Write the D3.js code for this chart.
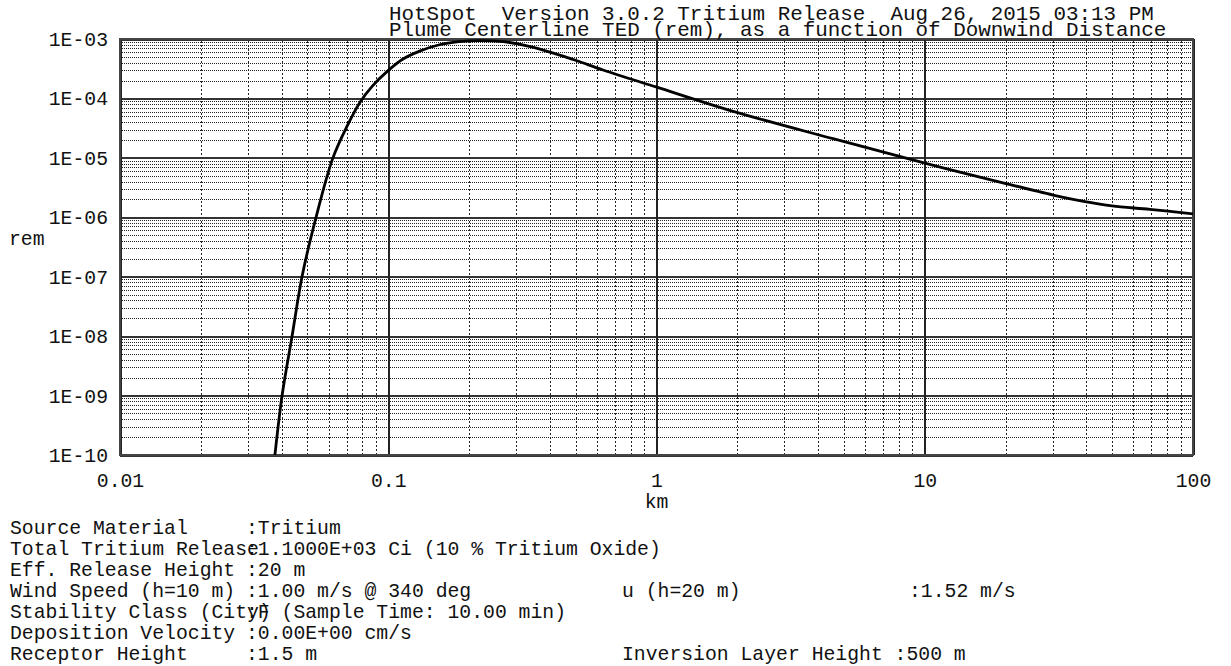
<!DOCTYPE html>
<html>
<head>
<meta charset="utf-8">
<script src="https://cdn.jsdelivr.net/npm/d3@7/dist/d3.min.js"></script>
<style>
  html, body { margin: 0; padding: 0; background: #fff; }
  svg { display: block; }
  text { font-family: "Liberation Mono", "DejaVu Sans Mono", monospace; fill: #111; white-space: pre; }
</style>
</head>
<body>
<script>
// ---- Data ----
const distanceKm = [0.0372, 0.0378, 0.0402, 0.0438, 0.0477, 0.0538, 0.0622, 0.0703, 0.0784, 0.0869,
  0.1003, 0.1131, 0.131, 0.1551, 0.1836, 0.2174, 0.2690, 0.3319, 0.4096, 0.5052, 0.632, 0.996, 1.93,
  4.55, 9.85, 19.9, 30.1, 39.6, 49.9, 69.1, 100];
const tedRem = [5e-11, 1.0e-10, 1.0e-9, 1.0e-8, 1.0e-7, 1.0e-6, 1.0e-5, 3.45e-5, 8.56e-5, 1.58e-4,
  2.99e-4, 4.57e-4, 6.26e-4, 8.0e-4, 9.0e-4, 9.4e-4, 9.0e-4, 7.6e-4, 5.85e-4, 4.3e-4, 3.01e-4, 1.56e-4, 6.06e-5,
  2.1e-5, 8.3e-6, 3.73e-6, 2.37e-6, 1.83e-6, 1.55e-6, 1.36e-6, 1.14e-6];

const xTickValues = [0.01, 0.1, 1, 10, 100];
const xTickLabels = ["0.01", "0.1", "1", "10", "100"];
const yTickValues = [1e-3, 1e-4, 1e-5, 1e-6, 1e-7, 1e-8, 1e-9, 1e-10];
const yTickLabels = ["1E-03", "1E-04", "1E-05", "1E-06", "1E-07", "1E-08", "1E-09", "1E-10"];

const titleLines = [
  "HotSpot  Version 3.0.2 Tritium Release  Aug 26, 2015 03:13 PM",
  "Plume Centerline TED (rem), as a function of Downwind Distance"
];
const xAxisTitle = "km";
const yAxisTitle = "rem";

const infoLabels = ["Source Material", "Total Tritium Release", "Eff. Release Height", "Wind Speed (h=10 m)",
  "Stability Class (City)", "Deposition Velocity", "Receptor Height"];
const infoValues = [":Tritium", ":1.1000E+03 Ci (10 % Tritium Oxide)", ":20 m", ":1.00 m/s @ 340 deg",
  ":F (Sample Time: 10.00 min)", ":0.00E+00 cm/s", ":1.5 m"];
const infoRightLabels = ["", "", "", "u (h=20 m)", "", "", "Inversion Layer Height :500 m"];
const infoRightValues = ["", "", "", ":1.52 m/s", "", "", ""];

// ---- Layout ----
const W = 1231, H = 666;
const L = 120, R = 1193, T = 39, B = 455;

const svg = d3.select("body").append("svg").attr("width", W).attr("height", H);

const x = d3.scaleLog().domain([0.01, 100]).range([L, R]);
const y = d3.scaleLog().domain([1e-10, 1e-3]).range([B, T]);

// minor grid values
const xMinor = [], yMinor = [];
for (let e = -2; e < 2; e++) for (let m = 2; m <= 9; m++) xMinor.push(m * Math.pow(10, e));
for (let e = -10; e < -3; e++) for (let m = 2; m <= 9; m++) yMinor.push(m * Math.pow(10, e));

const grid = svg.append("g");
grid.append("g").attr("transform", `translate(${L},0)`)
  .call(d3.axisLeft(y).tickValues(yMinor).tickSize(-(R - L)).tickFormat(""))
  .call(g => g.select(".domain").remove())
  .call(g => g.selectAll("line").attr("stroke", "#222").attr("stroke-dasharray", "1,1").attr("shape-rendering", "crispEdges"));
grid.append("g").attr("transform", `translate(0,${B})`)
  .call(d3.axisBottom(x).tickValues(xMinor).tickSize(-(B - T)).tickFormat(""))
  .call(g => g.select(".domain").remove())
  .call(g => g.selectAll("line").attr("stroke", "#222").attr("stroke-dasharray", "2,2").attr("shape-rendering", "crispEdges"));
grid.append("g").attr("transform", `translate(${L},0)`)
  .call(d3.axisLeft(y).tickValues(yTickValues).tickSize(-(R - L)).tickFormat(""))
  .call(g => g.select(".domain").remove())
  .call(g => g.selectAll("line").attr("stroke", "#333").attr("stroke-width", 2).attr("shape-rendering", "crispEdges"));
grid.append("g").attr("transform", `translate(0,${B})`)
  .call(d3.axisBottom(x).tickValues(xTickValues).tickSize(-(B - T)).tickFormat(""))
  .call(g => g.select(".domain").remove())
  .call(g => g.selectAll("line").attr("stroke", "#222").attr("stroke-width", 2).attr("shape-rendering", "crispEdges"));

svg.append("rect").attr("x", L).attr("y", T).attr("width", R - L).attr("height", B - T)
  .attr("fill", "none").attr("stroke", "#444").attr("stroke-width", 2);

// curve
svg.append("clipPath").attr("id", "clip").append("rect")
  .attr("x", L).attr("y", T - 2).attr("width", R - L).attr("height", B - T + 2);
const pts = distanceKm.map((d, i) => [d, tedRem[i]]);
svg.append("path")
  .datum(pts)
  .attr("clip-path", "url(#clip)")
  .attr("fill", "none").attr("stroke", "#000").attr("stroke-width", 2.8)
  .attr("stroke-linejoin", "round")
  .attr("d", d3.line().x(d => x(d[0])).y(d => y(d[1])).curve(d3.curveCatmullRom.alpha(0.5)));

// axes labels
const fs = 19.75;
svg.append("g").attr("transform", `translate(${L - 12},0)`)
  .call(d3.axisLeft(y).tickValues(yTickValues).tickSize(0).tickPadding(0).tickFormat((d, i) => yTickLabels[i]))
  .call(g => g.select(".domain").remove())
  .call(g => g.selectAll("text").attr("font-size", fs).attr("font-family", "Liberation Mono").attr("fill", "#111").attr("dy", "0.33em"));

svg.append("g").attr("transform", `translate(0,${B + 16})`)
  .call(d3.axisBottom(x).tickValues(xTickValues).tickSize(0).tickPadding(0).tickFormat((d, i) => xTickLabels[i]))
  .call(g => g.select(".domain").remove())
  .call(g => g.selectAll("text").attr("font-size", fs).attr("font-family", "Liberation Mono").attr("fill", "#111").attr("dy", "0.8em"));

svg.append("text").attr("x", (L + R) / 2).attr("y", 508).attr("text-anchor", "middle")
  .attr("font-size", fs).text(xAxisTitle);
svg.append("text").attr("x", 9).attr("y", 245).attr("font-size", fs).text(yAxisTitle);

// title
svg.selectAll("text.title").data(titleLines).enter().append("text")
  .attr("class", "title")
  .attr("x", 389).attr("y", (d, i) => 20 + i * 16)
  .attr("font-size", 20.9).attr("xml:space", "preserve").text(d => d);

// info block
const rowY = i => 534 + i * 21;
svg.selectAll("text.il").data(infoLabels).enter().append("text").attr("class", "il")
  .attr("x", 10).attr("y", (d, i) => rowY(i)).attr("font-size", fs).attr("xml:space", "preserve").text(d => d);
svg.selectAll("text.iv").data(infoValues).enter().append("text").attr("class", "iv")
  .attr("x", 246).attr("y", (d, i) => rowY(i)).attr("font-size", fs).attr("xml:space", "preserve").text(d => d);
svg.selectAll("text.irl").data(infoRightLabels).enter().append("text").attr("class", "irl")
  .attr("x", 622).attr("y", (d, i) => rowY(i)).attr("font-size", fs).attr("xml:space", "preserve").text(d => d);
svg.selectAll("text.irv").data(infoRightValues).enter().append("text").attr("class", "irv")
  .attr("x", 909).attr("y", (d, i) => rowY(i)).attr("font-size", fs).attr("xml:space", "preserve").text(d => d);
</script>
</body>
</html>
